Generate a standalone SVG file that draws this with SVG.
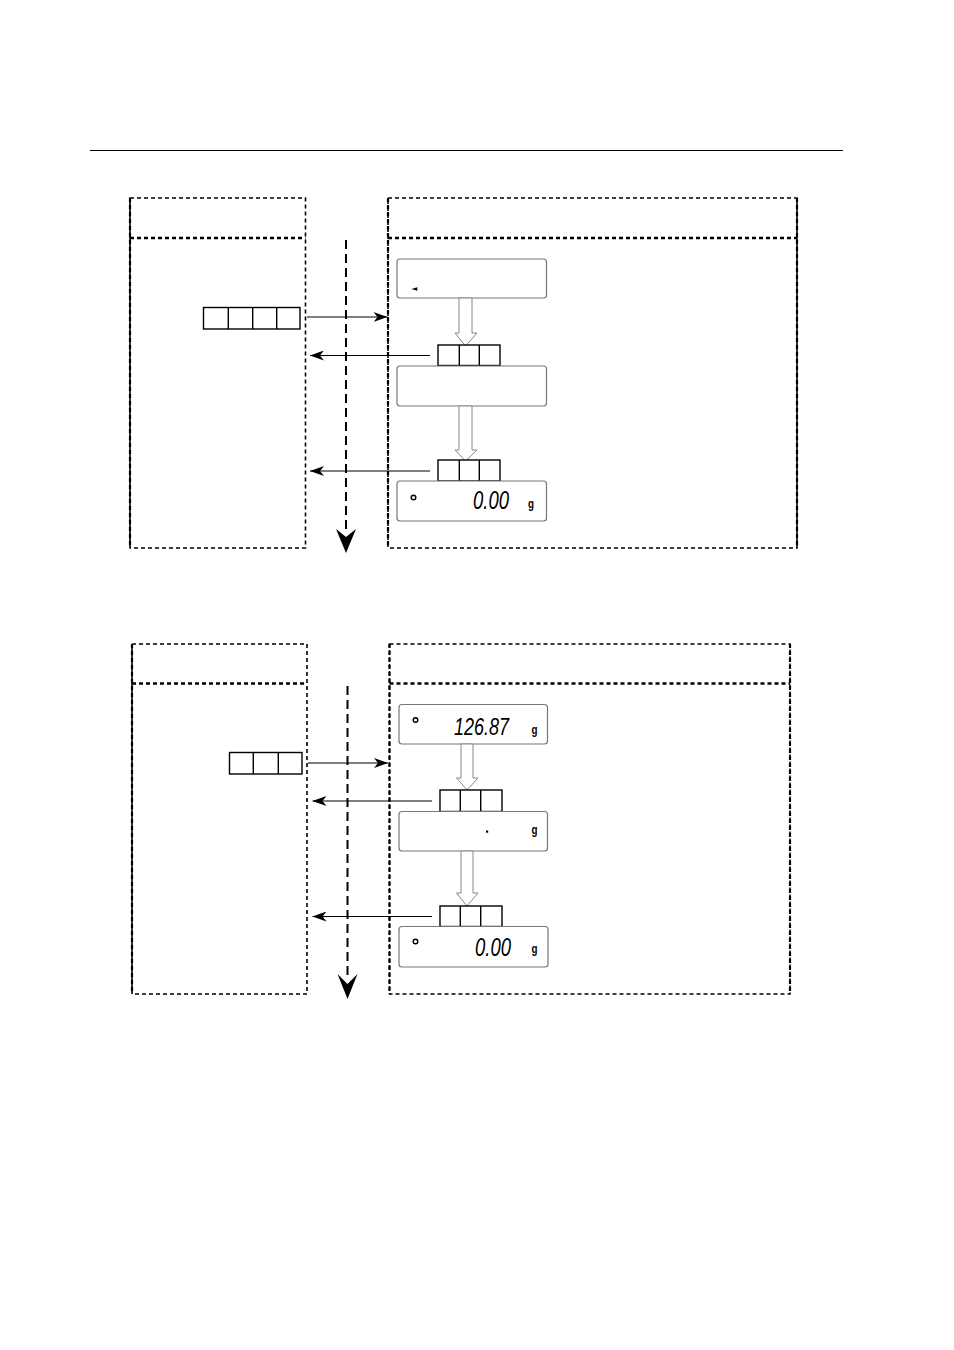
<svg xmlns="http://www.w3.org/2000/svg" width="954" height="1350" viewBox="0 0 954 1350">
<style>
.frame{fill:none;stroke:#000;stroke-width:1.6;stroke-dasharray:4 3}
.div{fill:none;stroke:#000;stroke-width:2.4;stroke-dasharray:4 3}
.edge{fill:none;stroke:#000;stroke-width:2.2;stroke-dasharray:4 3}
.flow{fill:none;stroke:#000;stroke-width:2;stroke-dasharray:9 5}
.key{fill:#fff;stroke:#000;stroke-width:1.4}
.disp{fill:#fff;stroke:#777;stroke-width:1.2}
.hollow{fill:#fff;stroke:#888;stroke-width:1}
.conn{fill:none;stroke:#000;stroke-width:1.2}
.seg{font-family:"Liberation Sans",Arial,sans-serif;font-style:italic;fill:#000}
.unit{font-family:"Liberation Sans",Arial,sans-serif;font-weight:bold;fill:#000;font-size:13px}
.ring{fill:none;stroke:#000;stroke-width:1.4}
</style>
<defs>
<marker id="ah" viewBox="0 0 14 10" refX="14" refY="5" markerWidth="14" markerHeight="10" orient="auto" markerUnits="userSpaceOnUse">
<path d="M0,0 L14,5 L0,10 L4,5 Z" fill="#000"/>
</marker>
</defs>
<line x1="90" y1="150.5" x2="843" y2="150.5" stroke="#000" stroke-width="1"/>

<!-- TOP DIAGRAM -->
<g id="top-left-panel">
<rect class="frame" x="130" y="198" width="175.5" height="350"/>
<line class="edge" x1="130" y1="198" x2="130" y2="548"/>
<line class="div" x1="130" y1="238" x2="305.5" y2="238"/>
</g>
<g id="top-right-panel">
<rect class="frame" x="388" y="198" width="409" height="350"/>
<line class="edge" x1="388" y1="198" x2="388" y2="548"/>
<line class="edge" x1="797" y1="198" x2="797" y2="548"/>
<line class="div" x1="388" y1="238" x2="797" y2="238"/>
</g>
<g id="top-flow">
<line class="flow" x1="346" y1="240" x2="346" y2="532"/>
<polygon points="336,529 346,537 356,529 346,553" fill="#000"/>
</g>
<g id="top-key-left">
<rect class="key" x="203.5" y="307.5" width="96.5" height="21.5"/>
<line class="key" x1="228.3" y1="307.5" x2="228.3" y2="329"/>
<line class="key" x1="252.7" y1="307.5" x2="252.7" y2="329"/>
<line class="key" x1="276.7" y1="307.5" x2="276.7" y2="329"/>
</g>
<g id="top-display-1">
<rect class="disp" x="397" y="259" width="149.5" height="39" rx="3"/>
<polygon points="411.5,289 417.3,287.3 417.3,290.7" fill="#000"/>
</g>
<g id="top-hollow-1">
<polygon class="hollow" points="459,298 472,298 472,333 477,333 465.5,346 455,333 459,333"/>
</g>
<g id="top-key-1">
<rect class="key" x="438" y="345" width="62" height="20.5"/>
<line class="key" x1="459.3" y1="345" x2="459.3" y2="365.5"/>
<line class="key" x1="479.3" y1="345" x2="479.3" y2="365.5"/>
</g>
<g id="top-display-2">
<rect class="disp" x="397" y="366" width="149.5" height="40" rx="3"/>
</g>
<g id="top-hollow-2">
<polygon class="hollow" points="459,406 472,406 472,450 477,450 465.5,461 455,450 459,450"/>
</g>
<g id="top-key-2">
<rect class="key" x="438" y="460" width="62" height="21"/>
<line class="key" x1="459.3" y1="460" x2="459.3" y2="481"/>
<line class="key" x1="479.3" y1="460" x2="479.3" y2="481"/>
</g>
<g id="top-display-3">
<rect class="disp" x="397" y="481" width="149.5" height="40" rx="3"/>
<circle class="ring" cx="413.5" cy="497.5" r="2.3"/>
<text class="seg" x="473" y="509" font-size="25" textLength="36" lengthAdjust="spacingAndGlyphs">0.00</text>
<text class="unit" x="528" y="508" textLength="6" lengthAdjust="spacingAndGlyphs">g</text>
</g>
<g id="top-connectors">
<line class="conn" x1="307" y1="317" x2="387.5" y2="317" marker-end="url(#ah)"/>
<line class="conn" x1="430" y1="355.5" x2="310" y2="355.5" marker-end="url(#ah)"/>
<line class="conn" x1="430" y1="471" x2="310" y2="471" marker-end="url(#ah)"/>
</g>

<!-- BOTTOM DIAGRAM -->
<g id="bottom-left-panel">
<rect class="frame" x="132" y="644" width="175" height="350"/>
<line class="edge" x1="132" y1="644" x2="132" y2="994"/>
<line class="div" x1="132" y1="683.5" x2="307" y2="683.5"/>
</g>
<g id="bottom-right-panel">
<rect class="frame" x="389.5" y="644" width="400.5" height="350"/>
<line class="edge" x1="389.5" y1="644" x2="389.5" y2="994"/>
<line class="edge" x1="790" y1="644" x2="790" y2="994"/>
<line class="div" x1="389.5" y1="683.5" x2="790" y2="683.5"/>
</g>
<g id="bottom-flow">
<line class="flow" x1="347.5" y1="686" x2="347.5" y2="977"/>
<polygon points="337.5,974 347.5,984 357.5,974 347.5,999" fill="#000"/>
</g>
<g id="bottom-key-left">
<rect class="key" x="229.5" y="752.5" width="72.5" height="21.5"/>
<line class="key" x1="253.3" y1="752.5" x2="253.3" y2="774"/>
<line class="key" x1="278.3" y1="752.5" x2="278.3" y2="774"/>
</g>
<g id="bottom-display-1">
<rect class="disp" x="399" y="704.5" width="148.5" height="39.5" rx="3"/>
<circle class="ring" cx="415.5" cy="720" r="2.3"/>
<text class="seg" x="454" y="735" font-size="24" textLength="55" lengthAdjust="spacingAndGlyphs">126.87</text>
<text class="unit" x="531.5" y="734" textLength="6" lengthAdjust="spacingAndGlyphs">g</text>
</g>
<g id="bottom-hollow-1">
<polygon class="hollow" points="461,744 473,744 473,778 478,778 467,790 456.5,778 461,778"/>
</g>
<g id="bottom-key-1">
<rect class="key" x="440" y="790" width="62" height="21.5"/>
<line class="key" x1="460.3" y1="790" x2="460.3" y2="811.5"/>
<line class="key" x1="480.7" y1="790" x2="480.7" y2="811.5"/>
</g>
<g id="bottom-display-2">
<rect class="disp" x="399" y="811.5" width="148.5" height="39.5" rx="3"/>
<rect x="486" y="830.5" width="2.2" height="2.2" fill="#000"/>
<text class="unit" x="531.5" y="834" textLength="6" lengthAdjust="spacingAndGlyphs">g</text>
</g>
<g id="bottom-hollow-2">
<polygon class="hollow" points="461,851 473,851 473,893 478,893 467,906 456.5,893 461,893"/>
</g>
<g id="bottom-key-2">
<rect class="key" x="440" y="906" width="62" height="20.5"/>
<line class="key" x1="460.3" y1="906" x2="460.3" y2="926.5"/>
<line class="key" x1="480.7" y1="906" x2="480.7" y2="926.5"/>
</g>
<g id="bottom-display-3">
<rect class="disp" x="399" y="926.5" width="149" height="40.5" rx="3"/>
<circle class="ring" cx="415.5" cy="941.5" r="2.3"/>
<text class="seg" x="475" y="956" font-size="25" textLength="36" lengthAdjust="spacingAndGlyphs">0.00</text>
<text class="unit" x="531.5" y="953" textLength="6" lengthAdjust="spacingAndGlyphs">g</text>
</g>
<g id="bottom-connectors">
<line class="conn" x1="308" y1="763" x2="388" y2="763" marker-end="url(#ah)"/>
<line class="conn" x1="432" y1="801" x2="312.5" y2="801" marker-end="url(#ah)"/>
<line class="conn" x1="432" y1="916.5" x2="312.5" y2="916.5" marker-end="url(#ah)"/>
</g>
</svg>
